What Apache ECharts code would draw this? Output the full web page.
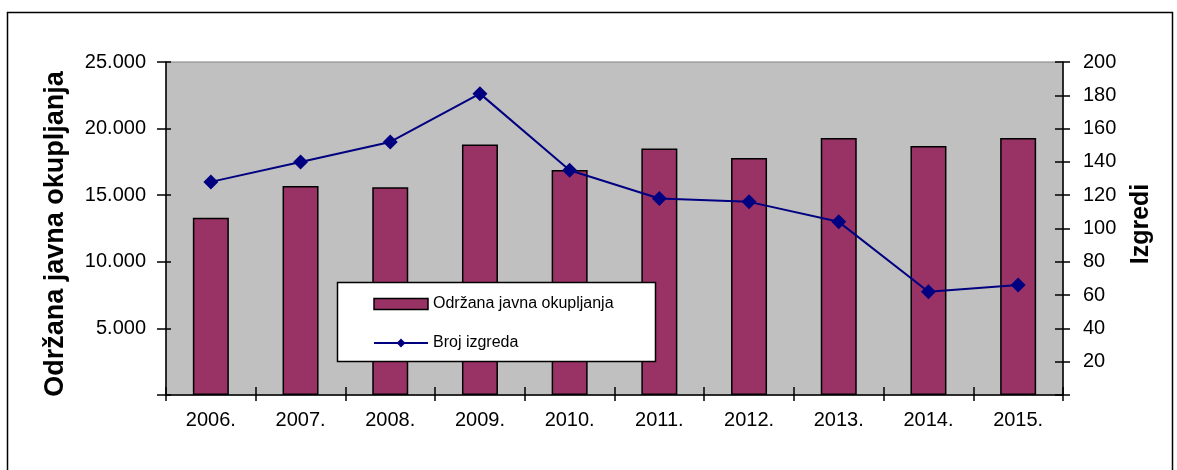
<!DOCTYPE html>
<html><head><meta charset="utf-8">
<script src="https://cdn.jsdelivr.net/npm/echarts@6/dist/echarts.min.js"></script>
<style>html,body{margin:0;padding:0;background:#fff}#c{width:1177px;height:470px}</style>
</head><body><div id="c"></div>
<script>
const years = ['2006.','2007.','2008.','2009.','2010.','2011.','2012.','2013.','2014.','2015.'];
const okupljanja = [13300, 15700, 15600, 18800, 16900, 18500, 17800, 19300, 18700, 19300];
const izgredi = [128, 140, 152, 181, 135, 118, 116, 104, 62, 66];
const leftTitle = 'Održana javna okupljanja';
const rightTitle = 'Izgredi';
const barName = 'Održana javna okupljanja';
const lineName = 'Broj izgreda';

const font = '"Liberation Sans", Arial, sans-serif';
function dots(v){ if(v===0) return ''; return String(v).replace(/\B(?=(\d{3})+(?!\d))/g,'.'); }

const chart = echarts.init(document.getElementById('c'), null, {renderer:'canvas'});
chart.setOption({
  animation:false,
  textStyle:{fontFamily:font},
  graphic:[
    {type:'rect', shape:{x:7.5,y:12.5,width:1165,height:480}, style:{fill:'none',stroke:'#000',lineWidth:1.5}, z:-10},
    {type:'rect', shape:{x:337.5,y:282.5,width:318,height:79}, style:{fill:'#fff',stroke:'#000',lineWidth:1.5}, z:50},
    {type:'text', rotation:Math.PI/2, x:56, y:234, style:{text:leftTitle, font:'bold 27px '+font, fill:'#000', align:'center', verticalAlign:'middle'}},
    {type:'text', rotation:Math.PI/2, x:1141, y:224, style:{text:rightTitle, font:'bold 25px '+font, fill:'#000', align:'center', verticalAlign:'middle'}}
  ],
  grid:{left:166, right:114, top:62, bottom:75, show:true, backgroundColor:'#c0c0c0', borderColor:'#808080', borderWidth:1},
  legend:{
    orient:'vertical', left:373, top:296, padding:0, itemWidth:54, itemHeight:11, itemGap:23, z:60,
    textStyle:{fontSize:16, color:'#000', fontFamily:font},
    data:[
      {name:barName, icon:'rect', itemStyle:{color:'#993366', borderColor:'#000', borderWidth:1.5}},
      {name:lineName}
    ]
  },
  xAxis:[
    {type:'category', data:years, position:'bottom', boundaryGap:true,
     axisLine:{lineStyle:{color:'#000', width:1.5}},
     axisTick:{show:true, length:6, lineStyle:{color:'#000', width:1.5}},
     axisLabel:{fontSize:20, color:'#000', margin:15, fontFamily:font}},
    {type:'category', data:years, position:'bottom', boundaryGap:true,
     axisLine:{show:false}, axisTick:{show:true, inside:true, length:8, lineStyle:{color:'#000', width:1.5}},
     axisLabel:{show:false}}
  ],
  yAxis:[
    {type:'value', min:0, max:25000, interval:5000, position:'left',
     axisLine:{show:true, lineStyle:{color:'#000', width:1.5}},
     axisTick:{show:true, length:9, lineStyle:{color:'#000', width:1.5}},
     splitLine:{show:false},
     axisLabel:{fontSize:20, color:'#000', margin:20, formatter:dots, fontFamily:font}},
    {type:'value', min:0, max:200, interval:20, position:'right',
     axisLine:{show:true, lineStyle:{color:'#000', width:1.5}},
     axisTick:{show:true, length:7, lineStyle:{color:'#000', width:1.5}},
     splitLine:{show:false},
     axisLabel:{fontSize:20, color:'#000', margin:20, formatter:v=>v===0?'':String(v), fontFamily:font}},
    {type:'value', min:0, max:25000, interval:5000, position:'left',
     axisLine:{show:false}, axisTick:{show:true, inside:true, length:5, lineStyle:{color:'#000', width:1.5}},
     splitLine:{show:false}, axisLabel:{show:false}},
    {type:'value', min:0, max:200, interval:20, position:'right',
     axisLine:{show:false}, axisTick:{show:true, inside:true, length:8, lineStyle:{color:'#000', width:1.5}},
     splitLine:{show:false}, axisLabel:{show:false}}
  ],
  series:[
    {name:barName, type:'bar', data:okupljanja, xAxisIndex:0, yAxisIndex:0, barWidth:36,
     itemStyle:{color:'#993366', borderColor:'#000', borderWidth:1.5}, z:2},
    {name:lineName, type:'line', data:izgredi, xAxisIndex:0, yAxisIndex:1, symbol:'diamond', symbolSize:15,
     lineStyle:{color:'#000080', width:2}, itemStyle:{color:'#000080'}, z:3}
  ]
});
</script></body></html>
